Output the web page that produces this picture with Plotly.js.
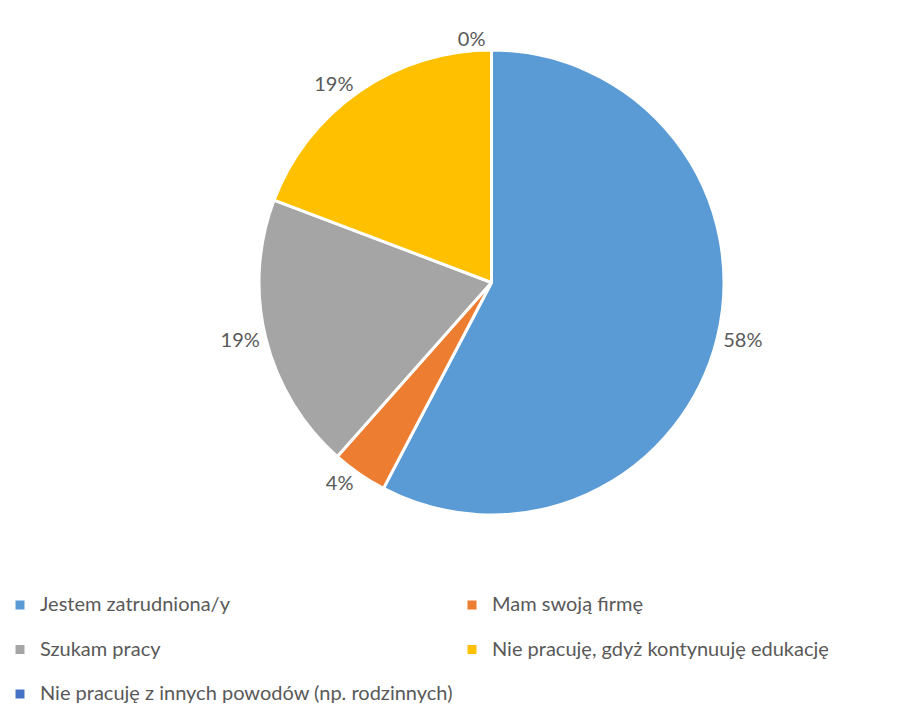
<!DOCTYPE html>
<html>
<head>
<meta charset="utf-8">
<script src="https://cdn.plot.ly/plotly-3.0.1.min.js"></script>
<style>html,body{margin:0;padding:0;background:#fff}#chart{width:901px;height:711px}</style>
</head>
<body>
<div id="chart"></div>
<script>
var labels = [
  'Jestem zatrudniona/y',
  'Mam swoją firmę',
  'Szukam pracy',
  'Nie pracuję, gdyż kontynuuję edukację',
  'Nie pracuję z innych powodów (np. rodzinnych)'
];
var values = [15, 1, 5, 5, 0];
var colors = ['#5B9BD5', '#ED7D31', '#A5A5A5', '#FFC000', '#4472C4'];

var W = 901, H = 711;
var MB = 123;               // bottom margin holding the legend
var GH = H - MB;            // plot-area height
var cx = 491.5, cy = 282.5, R = 232.5;

// legend entries: larger visible text, extra blank line for row spacing (except last row)
var legendLabels = labels.map(function (l, i) {
  var s = '<span style="font-size:20px">' + l + '</span>';
  return i < 4 ? s + '<br> ' : s;
});

var trace = {
  type: 'pie',
  labels: legendLabels,
  values: values,
  sort: false,
  direction: 'clockwise',
  rotation: 0,
  marker: { colors: colors, line: { color: '#FFFFFF', width: 3 } },
  textinfo: 'percent',
  texttemplate: '%{percent:.0%}',
  textposition: 'outside',
  outsidetextfont: { family: 'Lato, sans-serif', size: 20, color: '#595959' },
  hoverinfo: 'percent',
  domain: {
    x: [(cx - R) / W, (cx + R) / W],
    y: [1 - (cy + R) / GH, 1 - (cy - R) / GH]
  }
};

var layout = {
  width: W, height: H,
  margin: { l: 0, r: 0, t: 0, b: MB },
  paper_bgcolor: '#FFFFFF',
  showlegend: true,
  font: { family: 'Lato, sans-serif', color: '#595959' },
  legend: {
    orientation: 'h',
    x: 0, xanchor: 'left',
    y: 0, yanchor: 'top',
    valign: 'top',
    entrywidth: 407,
    entrywidthmode: 'pixels',
    traceorder: 'normal',
    font: { family: 'Lato, sans-serif', size: 16, color: '#595959' }
  }
};

Plotly.newPlot('chart', [trace], layout, { displayModeBar: false, staticPlot: true });
</script>
</body>
</html>
